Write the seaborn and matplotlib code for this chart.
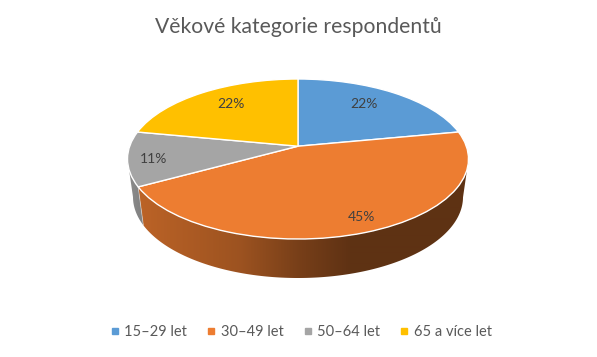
import numpy as np
import matplotlib
matplotlib.use("Agg")
import matplotlib.pyplot as plt
from matplotlib.lines import Line2D
from matplotlib.patches import Polygon
from matplotlib.transforms import Transform, Affine2D
import seaborn as sns

title = "Věkové kategorie respondentů"
categories = ["15–29 let", "30–49 let", "50–64 let", "65 a více let"]
values = [22, 45, 11, 22]
colors = ["#5B9BD5", "#ED7D31", "#A5A5A5", "#FFC000"]
label_radii = [0.72, 0.84, 0.82, 0.72]
label_nudges = [(-5, 2), (9, 0), (-5, -3), (4, 2)]

sns.set_theme(style="white")
plt.rcParams["font.family"] = ["Lato", "DejaVu Sans"]
palette = sns.color_palette(colors)

W, H = 597, 357
CX, CY, RX, RY = 298, 159, 170.5, 80
TILT = 0.16


def persp(x, y):
    d = 1 + TILT * y
    return x * np.sqrt(1 - TILT ** 2) / d, (y + TILT) / d


class Perspective(Transform):
    input_dims = 2
    output_dims = 2
    has_inverse = False
    is_separable = False

    def transform_non_affine(self, values):
        v = np.asarray(values, dtype=float)
        x, y = persp(v[:, 0], v[:, 1])
        return np.column_stack([x, y])


fig = plt.figure(figsize=(W / 100, H / 100), dpi=100)
ax = fig.add_axes([0, 0, 1, 1])

wedges, _, autotexts = ax.pie(
    values, colors=palette, startangle=90, counterclock=False,
    autopct="%.0f%%", radius=1,
    wedgeprops=dict(edgecolor="white", linewidth=1.0, zorder=3),
    textprops=dict(color="#404040", fontsize=10, zorder=4),
)
ax.set_aspect("auto")
xlim = (-CX / RX, (W - CX) / RX)
ylim = ((CY - H) / RY, CY / RY)

tr = Perspective() + ax.transData
for w, t, r, (dx, dy) in zip(wedges, autotexts, label_radii, label_nudges):
    w.set_transform(tr)
    mid = np.deg2rad((w.theta1 + w.theta2) / 2)
    t.set_position((r * np.cos(mid), r * np.sin(mid)))
    t.set_transform(tr + Affine2D().translate(dx, dy))

# extruded side wall: a horizontal shading gradient clipped to the front rim
BOT_X = 165 / RX
BOT_Y = 81 / RY
DROP = 38 / RY
px = np.arange(W)
shade = np.interp(px, [128, 140, 240, 300, 350, 470],
                  [0.85, 0.79, 0.66, 0.50, 0.40, 0.40])
for w, base in zip(wedges, palette):
    th = np.deg2rad(np.linspace(w.theta1, w.theta2, 400))
    xt, yt = persp(np.cos(th), np.sin(th))
    front = yt <= 0
    if front.sum() < 2:
        continue
    seam = front[0]
    xt, yt = xt[front], yt[front]
    xb, yb = xt * BOT_X, yt * BOT_Y - DROP
    verts = np.vstack([np.column_stack([xt, yt]),
                       np.column_stack([xb, yb])[::-1]])
    wall = Polygon(verts, closed=True, transform=ax.transData,
                   facecolor="none", edgecolor="none")
    ax.add_patch(wall)
    rgb = np.clip(np.outer(shade, base), 0, 1)[None, :, :]
    im = ax.imshow(rgb, extent=(xlim[0], xlim[1], ylim[0], ylim[1]),
                   aspect="auto", interpolation="bilinear", zorder=1)
    im.set_clip_path(wall)
    if seam:
        ax.plot([xt[0], xb[0]], [yt[0], yb[0]], color="white", alpha=0.45,
                linewidth=0.6, zorder=2)

ax.set_xlim(xlim)
ax.set_ylim(ylim)
ax.set_axis_off()

fig.text(298 / W, 1 - 27 / H, title, ha="center", va="center",
         fontsize=15.2, color="#595959")

handles = [Line2D([], [], linestyle="none", marker="s", markersize=5,
                  markerfacecolor=c, markeredgecolor=c) for c in palette]
leg = fig.legend(handles, categories, loc="center", ncol=4,
                 bbox_to_anchor=(301 / W, 1 - 332.5 / H), frameon=False,
                 fontsize=10.5, labelcolor="#595959", handlelength=0.6,
                 handletextpad=0.35, columnspacing=1.35, borderpad=0)

fig.savefig("out.png", dpi=100, facecolor="white")
